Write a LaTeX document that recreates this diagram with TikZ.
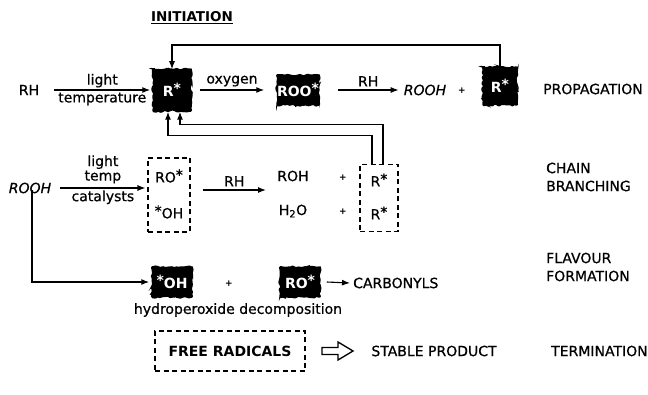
\documentclass[tikz,border=0pt]{standalone}
\usepackage{fontspec}
\setmainfont{DejaVu Sans}[UprightFeatures={FakeBold=0.7}, ItalicFeatures={FakeBold=0.7}]
\usetikzlibrary{arrows.meta,decorations.pathmorphing}
\newcommand\myfs{\fontsize{14}{16}\selectfont}
\newcommand\st{\raisebox{2.5pt}{*}}
\begin{document}
\begin{tikzpicture}[x=1pt,y=-1pt,
  every node/.style={font=\myfs, inner sep=1pt},
  arr/.style={-{Latex[length=8pt,width=6pt]}, line width=1.1pt},
  blk/.style={fill=black, draw=black, text=white, line width=1.5pt, inner sep=0pt,
    rounded corners=0.8pt, font=\myfs\bfseries,
    decorate, decoration={random steps, segment length=2.2pt, amplitude=1.1pt}},
  dbox/.style={draw, dash pattern=on 5pt off 3.5pt, line width=1.1pt, inner sep=0pt},
  plus/.style={font=\fontsize{9}{9}\selectfont\bfseries},
  stage/.style={anchor=west, align=left, font=\fontsize{14}{18}\selectfont}
]
\pgfmathsetseed{7}
\useasboundingbox (0,0) rectangle (648,395);

% ---------- initiation / propagation ----------
\node[font=\fontsize{13.5}{16}\selectfont\bfseries] (init) at (192,18) {\underline{INITIATION}};
\node (rh) at (29,90) {RH};
\node[blk, minimum width=38pt, minimum height=42pt] (r1) at (172,90) {R\st};
\node[blk, minimum width=42pt, minimum height=30pt] (roo) at (298,90) {ROO\st};
\node[font=\myfs\itshape] (rooh) at (425,90) {ROOH};
\node[plus] (p1) at (462,91) {+};
\node[blk, minimum width=34pt, minimum height=38pt] (r2) at (500,86) {R\st};
\node[stage] (prop) at (542,89) {PROPAGATION};

\draw[arr] ([xshift=14pt]rh.east) -- ([xshift=-2pt]r1.west)
  node[midway,above=1pt]{light} node[midway,below=1pt]{temperature};
\draw[arr] ([xshift=8pt]r1.east) -- ([xshift=-12pt]roo.west)
  node[midway,above=2pt]{oxygen};
\draw[arr] ([xshift=18pt]roo.east) -- ([xshift=-4pt]rooh.west)
  node[midway,above=2pt]{RH};

\coordinate (toprow) at (0,45);
\draw[arr] (r2.north) -- (r2.north |- toprow) -| ([yshift=-1pt]r1.north);

% ---------- chain branching ----------
\node[font=\myfs\itshape] (rooh2) at (30,188) {ROOH};
\node[dbox, minimum width=42pt, minimum height=74pt] (bx1) at (169,195) {};
\node (ro1) at (169,176) {RO\st};
\node (oh1) at (169,212) {\st OH};
\draw[arr] ([xshift=8pt]rooh2.east) -- ([xshift=-2pt]bx1.west |- rooh2.east)
  node[midway,above=3pt,align=center,font=\fontsize{14}{14.5}\selectfont]{light\\temp}
  node[midway,below=1pt]{catalysts};

\coordinate (prodL) at (266,190);
\draw[arr] ([xshift=12pt]bx1.east |- prodL) -- (prodL) node[midway,above=2pt]{RH};
\node (roh) at (293,176) {ROH};
\node (h2o) at (293,211) {H\textsubscript{2}O};
\node[plus] (p2) at (343,178) {+};
\node[plus] (p3) at (343,212) {+};
\node[dbox, minimum width=38pt, minimum height=67pt] (bx2) at (379,198) {};
\node (rs1) at (379,180) {R\st};
\node (rs2) at (379,213) {R\st};
\node[stage] (chain) at (545,177) {CHAIN\\BRANCHING};

\draw[arr] ([xshift=4pt]bx2.north) -- ++(0,-39) -| ([xshift=8pt]r1.south);
\draw[arr] ([xshift=-7pt]bx2.north) -- ++(0,-28) -| ([xshift=-4pt]r1.south);

% ---------- flavour formation ----------
\node[blk, minimum width=40pt, minimum height=30pt] (oh) at (172,282) {\st OH};
\node[plus] (p4) at (229,284) {+};
\node[blk, minimum width=40pt, minimum height=30pt] (ro) at (300,282) {RO\st};
\node[anchor=west] (carb) at (352,283) {CARBONYLS};
\node (hyd) at (238,310) {hydroperoxide decomposition};
\node[stage] (flav) at (545,267) {FLAVOUR\\FORMATION};
\draw[arr] ([xshift=2pt,yshift=4pt]rooh2.south) |- ([xshift=-2pt]oh.west);
\draw[arr] ([xshift=6pt]ro.east) -- ([xshift=-2pt]carb.west);

% ---------- termination ----------
\node[dbox, minimum width=150pt, minimum height=40pt, font=\fontsize{14}{16}\selectfont\bfseries] (free) at (230,351) {FREE RADICALS};
\coordinate (open) at (322,351);
\draw[line width=1.3pt, line join=miter] (open) ++(0,-3.5) -- ++(16,0) -- ++(0,-5.5)
  -- ++(15,9) -- ++(-15,9) -- ++(0,-5.5) -- ++(-16,0) -- cycle;
\node (stable) at (434,351) {STABLE PRODUCT};
\node[stage] (term) at (550,351) {TERMINATION};
\end{tikzpicture}
\end{document}
